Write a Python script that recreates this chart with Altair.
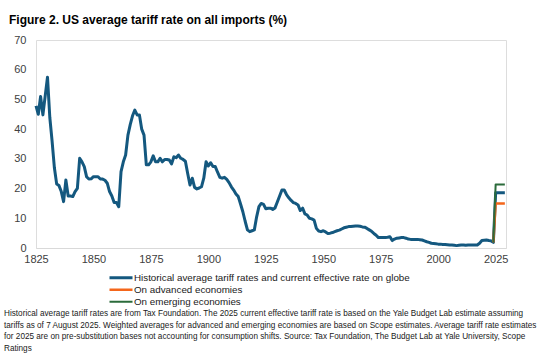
import altair as alt
import pandas as pd

# ---------------- data ----------------
hist_years = [
    1825, 1826, 1827, 1828, 1830, 1831, 1832, 1833, 1834, 1835, 1836, 1837, 1838, 1839,
    1840, 1841, 1842, 1843, 1844, 1845, 1846, 1847, 1848, 1849, 1850, 1851, 1852, 1853,
    1854, 1855, 1856, 1857, 1858, 1859, 1860, 1861, 1862, 1863, 1864, 1865, 1866, 1867,
    1868, 1869, 1870, 1871, 1872, 1873, 1874, 1875, 1876, 1877, 1878, 1879, 1880, 1881,
    1882, 1883, 1884, 1885, 1886, 1887, 1888, 1889, 1890, 1891, 1892, 1893, 1894, 1895,
    1896, 1897, 1898, 1899, 1900, 1901, 1902, 1903, 1904, 1905, 1906, 1907, 1908, 1909,
    1910, 1911, 1912, 1913, 1914, 1915, 1916, 1917, 1918, 1919, 1920, 1921, 1922, 1923,
    1924, 1925, 1926, 1927, 1928, 1929, 1930, 1931, 1932, 1933, 1934, 1935, 1936, 1937,
    1938, 1939, 1940, 1941, 1942, 1943, 1944, 1945, 1946, 1947, 1948, 1949, 1950, 1951,
    1952, 1953, 1954, 1955, 1956, 1957, 1958, 1959, 1960, 1961, 1962, 1963, 1964, 1965,
    1966, 1967, 1968, 1969, 1970, 1971, 1972, 1973, 1974, 1975, 1976, 1977, 1978, 1979,
    1980, 1981, 1982, 1983, 1984, 1985, 1986, 1987, 1988, 1989, 1990, 1991, 1992, 1993,
    1994, 1995, 1996, 1997, 1998, 1999, 2000, 2001, 2002, 2003, 2004, 2005, 2006, 2007,
    2008, 2009, 2010, 2011, 2012, 2013, 2014, 2015, 2016, 2017, 2018, 2019, 2020, 2021,
    2022, 2023, 2024, 2025, 2029,
]
hist_rates = [
    47.8, 45.0, 51.0, 44.8, 57.5, 44.0, 36.0, 27.0, 21.5, 21.0, 19.0, 15.6, 22.9, 17.5,
    17.5, 17.3, 19.0, 20.1, 30.2, 29.0, 27.4, 24.0, 23.2, 23.3, 24.0, 24.0, 24.0, 23.2,
    23.2, 22.8, 21.8, 19.0, 17.5, 15.3, 15.3, 13.9, 25.7, 29.0, 31.3, 38.0, 41.5, 44.5,
    46.4, 44.8, 44.8, 40.0, 38.0, 28.0, 28.0, 29.0, 31.0, 29.0, 29.0, 30.2, 29.0, 29.8,
    29.8, 29.6, 28.3, 30.7, 30.4, 31.3, 30.2, 29.8, 29.2, 25.1, 21.2, 23.5, 20.4, 19.9,
    20.2, 20.6, 23.5, 29.0, 27.6, 28.7, 27.4, 27.4, 25.5, 23.8, 23.5, 23.8, 23.1, 22.0,
    20.6, 19.5, 18.2, 17.3, 14.8, 12.2, 9.0, 6.1, 5.5, 5.8, 6.1, 10.5, 13.9, 15.0,
    14.7, 13.2, 13.4, 13.4, 13.0, 13.5, 15.5, 17.5, 19.5, 19.5, 18.0, 16.9, 16.0, 15.3,
    15.0, 14.5, 12.6, 13.4, 11.5, 11.1, 10.0, 9.8, 9.4, 6.6, 5.7, 5.5, 5.8, 5.4,
    4.9, 5.0, 5.2, 5.5, 5.8, 6.0, 6.4, 6.8, 7.0, 7.2, 7.2, 7.3, 7.4, 7.4,
    7.3, 7.1, 7.0, 6.6, 6.1, 5.6, 4.9, 4.3, 3.5, 3.5, 3.5, 3.5, 3.6, 3.8,
    2.5, 3.0, 3.3, 3.4, 3.5, 3.5, 3.3, 3.0, 2.9, 2.9, 2.9, 2.9, 2.8, 2.7,
    2.4, 2.1, 1.9, 1.6, 1.5, 1.4, 1.3, 1.3, 1.2, 1.2, 1.1, 1.0, 1.0, 0.9,
    0.8, 0.9, 1.0, 1.0, 0.9, 1.0, 1.0, 1.0, 1.0, 1.0, 1.6, 2.5, 2.6, 2.7,
    2.5, 2.4, 1.9, 18.6, 18.6,
]

adv_years = [2024, 2025, 2029]
adv_rates = [1.9, 15.0, 15.0]

emg_years = [2024, 2025, 2029]
emg_rates = [1.9, 21.4, 21.4]

series_names = [
    "Historical average tariff rates and current effective rate on globe",
    "On advanced economies",
    "On emerging economies",
]
series_colors = ["#14587F", "#F4661B", "#2B6B3B"]
series_widths = [3, 2, 2]

x_ticks = [1825, 1850, 1875, 1900, 1925, 1950, 1975, 2000, 2025]
y_ticks = [0, 10, 20, 30, 40, 50, 60, 70]

title_text = "Figure 2. US average tariff rate on all imports (%)"
footnote_lines = [
    "Historical average tariff rates are from Tax Foundation. The 2025 current effective tariff rate is based on the Yale Budget Lab estimate assuming",
    "tariffs as of 7 August 2025. Weighted averages for advanced and emerging economies are based on Scope estimates. Average tariff rate estimates",
    "for 2025 are on pre-substitution bases not accounting for consumption shifts. Source: Tax Foundation, The Budget Lab at Yale University, Scope",
    "Ratings",
]

# ---------------- table ----------------
frames = []
for order, (name, yrs, vals) in enumerate(
    [(series_names[0], hist_years, hist_rates),
     (series_names[1], adv_years, adv_rates),
     (series_names[2], emg_years, emg_rates)]
):
    frames.append(pd.DataFrame({"year": yrs, "rate": vals, "series": name, "order": order}))
df = pd.concat(frames, ignore_index=True)

FONT = "Liberation Sans"

color_scale = alt.Scale(domain=series_names, range=series_colors)
width_scale = alt.Scale(domain=series_names, range=series_widths)

lines = alt.Chart(df).mark_line(strokeJoin="round", strokeCap="butt").encode(
    x=alt.X(
        "year:Q",
        scale=alt.Scale(domain=[1825, 2029.5], nice=False, zero=False),
        axis=alt.Axis(
            values=x_ticks, format="d", title=None, grid=False, ticks=False,
            domain=True, domainColor="#D9D9D9", domainWidth=1, labelFlush=False,
            labelFont=FONT, labelFontSize=11, labelColor="#404040", labelPadding=5,
        ),
    ),
    y=alt.Y(
        "rate:Q",
        scale=alt.Scale(domain=[0, 70], nice=False),
        axis=alt.Axis(
            values=y_ticks, title=None, grid=False, ticks=False, domain=False,
            labelFont=FONT, labelFontSize=11, labelColor="#404040", labelPadding=10,
        ),
    ),
    color=alt.Color(
        "series:N", scale=color_scale, sort=series_names,
        legend=alt.Legend(
            title=None, orient="none", legendX=72, legendY=232, direction="vertical",
            symbolType="stroke", symbolSize=529, symbolStrokeWidth=3,
            labelFont=FONT, labelFontSize=9.8, labelColor="#1a1a1a",
            labelOffset=0, rowPadding=0, clipHeight=11.5, labelLimit=400,
        ),
    ),
    strokeWidth=alt.StrokeWidth("series:N", scale=width_scale, legend=None),
    detail="series:N",
    order=alt.Order("year:Q"),
)

foot = alt.Chart(pd.DataFrame({"t": [0]})).mark_text(
    text=footnote_lines, align="left", baseline="top",
    font=FONT, fontSize=8.2, lineHeight=11.7, color="#1a1a1a",
).encode(x=alt.value(-32), y=alt.value(270))

chart = alt.layer(lines, foot).properties(
    width=470,
    height=208,
    autosize=alt.AutoSizeParams(type="none"),
    padding={"left": 36, "top": 40, "right": 44, "bottom": 105},
    title=alt.TitleParams(
        title_text, anchor="start", frame="group", dx=-27, dy=14, fontSize=12,
        fontWeight="bold", font=FONT, color="#000000", offset=12, baseline="alphabetic",
    ),
).configure_view(stroke=None).configure(background="white")

chart.save("out.html", embed_options={"renderer": "svg", "actions": False})
